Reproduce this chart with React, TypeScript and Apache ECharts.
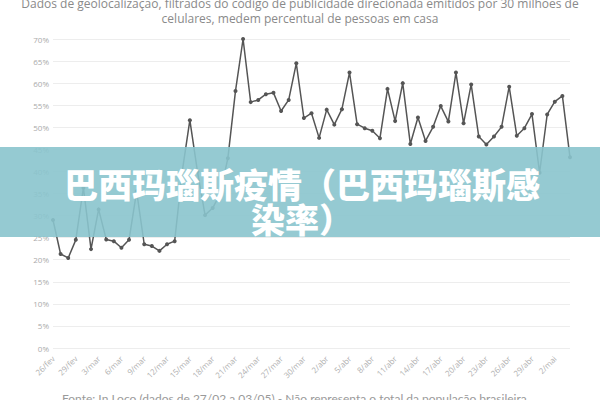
import React, { useEffect, useRef } from "react";
import * as echarts from "echarts";

const dates = [
  "26/fev", "27/fev", "28/fev", "29/fev",
  "1/mar", "2/mar", "3/mar", "4/mar", "5/mar", "6/mar", "7/mar", "8/mar", "9/mar", "10/mar",
  "11/mar", "12/mar", "13/mar", "14/mar", "15/mar", "16/mar", "17/mar", "18/mar", "19/mar", "20/mar",
  "21/mar", "22/mar", "23/mar", "24/mar", "25/mar", "26/mar", "27/mar", "28/mar", "29/mar", "30/mar", "31/mar",
  "1/abr", "2/abr", "3/abr", "4/abr", "5/abr", "6/abr", "7/abr", "8/abr", "9/abr", "10/abr",
  "11/abr", "12/abr", "13/abr", "14/abr", "15/abr", "16/abr", "17/abr", "18/abr", "19/abr", "20/abr",
  "21/abr", "22/abr", "23/abr", "24/abr", "25/abr", "26/abr", "27/abr", "28/abr", "29/abr", "30/abr",
  "1/mai", "2/mai", "3/mai", "4/mai",
];

const pctHome = [
  29.0, 21.3, 20.4, 24.5, 36.3, 22.4, 31.4, 24.6, 24.2, 22.7,
  24.5, 35.5, 23.5, 23.1, 22.0, 23.5, 24.2, 40.0, 51.6, 40.0,
  30.1, 31.7, 35.0, 43.0, 58.2, 70.0, 55.7, 56.2, 57.5, 57.8,
  53.7, 56.2, 64.5, 52.1, 53.2, 47.6, 54.0, 50.6, 54.1, 62.4,
  50.7, 49.8, 49.2, 47.5, 58.7, 51.4, 60.0, 46.2, 52.2, 46.9,
  50.1, 54.8, 51.3, 62.4, 50.9, 59.7, 47.9, 46.1, 47.9, 50.1,
  59.2, 48.1, 49.8, 53.0, 39.7, 52.9, 55.8, 57.1, 43.2,
];

const subtitleLines = [
  "Dados de geolocalização, filtrados do código de publicidade direcionada emitidos por 30 milhões de",
  "celulares, medem percentual de pessoas em casa",
];
const footer = "Fonte: In Loco (dados de 27/02 a 03/05) - Não representa o total da população brasileira";
const bannerLines = ["巴西玛瑙斯疫情（巴西玛瑙斯感", "染率）"];

export default function App() {
  const ref = useRef<HTMLDivElement>(null);
  useEffect(() => {
    const chart = echarts.init(ref.current!, null, { renderer: "svg" });
    chart.setOption({
      animation: false,
      backgroundColor: "#ffffff",
      grid: { left: 53, right: 30, top: 39, bottom: 52 },
      xAxis: {
        type: "category",
        data: dates,
        boundaryGap: false,
        axisLine: { show: false },
        axisTick: { show: false },
        axisLabel: {
          interval: 2,
          rotate: 45,
          fontSize: 8,
          color: "#b0b0b0",
          fontFamily: "Open Sans",
          margin: 9,
        },
      },
      yAxis: {
        type: "value",
        min: 0,
        max: 70,
        interval: 5,
        axisLine: { show: false },
        axisTick: { show: false },
        axisLabel: {
          formatter: "{value}%",
          fontSize: 8,
          color: "#aaaaaa",
          fontFamily: "Open Sans",
          margin: 4,
        },
        splitLine: { lineStyle: { color: "#ededed", width: 1 } },
      },
      series: [
        {
          type: "line",
          data: pctHome,
          symbol: "circle",
          symbolSize: 4,
          lineStyle: { color: "#555555", width: 1.5 },
          itemStyle: { color: "#555555" },
          z: 2,
        },
      ],
      graphic: [
        {
          type: "text",
          x: 300,
          y: 3,
          style: {
            text: subtitleLines[0],
            fontSize: 12,
            lineHeight: 13,
            textAlign: "center",
            textVerticalAlign: "middle",
            fill: "#8a8a8a",
            fontFamily: "Open Sans",
          },
        },
        {
          type: "text",
          x: 300,
          y: 18,
          style: {
            text: subtitleLines[1],
            fontSize: 12,
            lineHeight: 13,
            textAlign: "center",
            textVerticalAlign: "middle",
            fill: "#8a8a8a",
            fontFamily: "Open Sans",
          },
        },
        {
          type: "text",
          x: 62,
          y: 398,
          style: {
            text: footer,
            fontSize: 12,
            textAlign: "left",
            textVerticalAlign: "middle",
            fill: "#9a9a9a",
            fontFamily: "Lato",
          },
        },
        {
          type: "rect",
          left: 0,
          top: 147,
          z: 100,
          shape: { width: 600, height: 90 },
          style: { fill: "rgba(138,196,205,0.9)" },
        },
        {
          type: "text",
          x: 302,
          y: 183,
          z: 101,
          style: {
            text: bannerLines[0],
            fontSize: 34,
            lineHeight: 34,
            fontWeight: 900,
            textAlign: "center",
            textVerticalAlign: "middle",
            fill: "#ffffff",
            fontFamily: "Noto Sans CJK SC",
          },
        },
        {
          type: "text",
          x: 302,
          y: 218,
          z: 101,
          style: {
            text: bannerLines[1],
            fontSize: 34,
            lineHeight: 34,
            fontWeight: 900,
            textAlign: "center",
            textVerticalAlign: "middle",
            fill: "#ffffff",
            fontFamily: "Noto Sans CJK SC",
          },
        },
      ],
    });
    return () => chart.dispose();
  }, []);
  return <div ref={ref} style={{ width: 600, height: 400, position: "absolute", left: 0, top: 0 }} />;
}
